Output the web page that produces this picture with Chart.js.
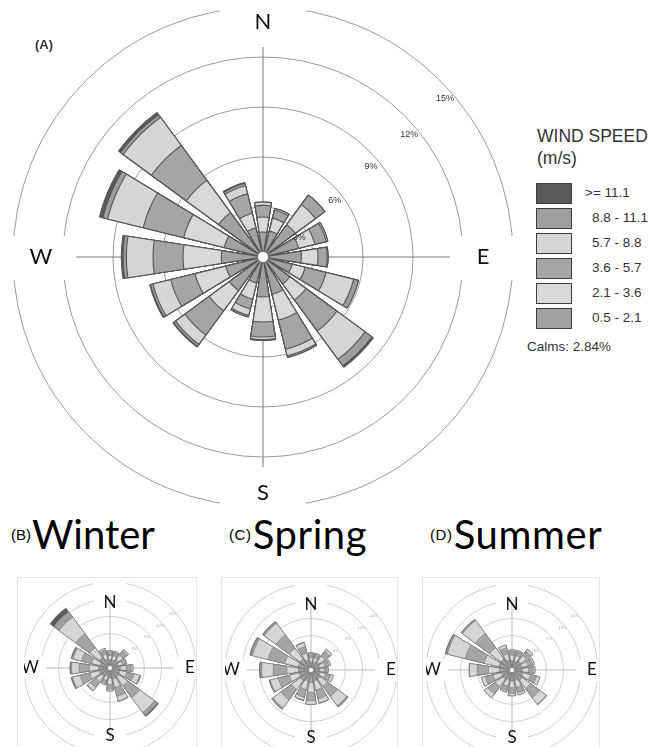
<!DOCTYPE html>
<html><head><meta charset="utf-8">
<script src="https://cdn.jsdelivr.net/npm/chart.js@4.4.1/dist/chart.umd.min.js"></script>
<style>
html,body{margin:0;padding:0;background:#fff}
body{width:659px;height:747px;position:relative;overflow:hidden;font-family:"Liberation Sans",Arial,sans-serif;color:#222}
.abs{position:absolute}
canvas{display:block}
.title{position:absolute;font-family:Lato,"Open Sans",sans-serif;font-size:40px;line-height:40px;color:#000;white-space:nowrap}
.title span{font-family:"Liberation Sans",Arial,sans-serif;font-size:15px;margin-right:1px;position:relative;top:-9px}
.frame{position:absolute;border:1px solid #e6e6e6;box-sizing:border-box}
.lg-t{position:absolute;left:537px;font-size:17.5px;color:#333;white-space:nowrap}
.lg-box{position:absolute;left:536px;width:36px;height:21px;box-sizing:border-box;border:1.5px solid #3c3c3c}
.lg-l{position:absolute;font-size:13.5px;color:#333;white-space:pre}
</style></head><body>

<div class="abs" style="left:13px;top:7px;width:500px;height:500px"><canvas id="cA" width="500" height="500"></canvas></div>
<div class="abs" style="left:35px;top:37px;font-weight:bold;font-size:13px;color:#333">(A)</div>

<div id="legend"></div>

<div class="title" style="left:11px;top:514px"><span>(B)</span>Winter</div>
<div class="title" style="left:229px;top:514px;letter-spacing:0.6px"><span>(C)</span>Spring</div>
<div class="title" style="left:430px;top:514px;letter-spacing:0.6px"><span>(D)</span>Summer</div>

<div class="frame" style="left:17px;top:577px;width:180px;height:175px"></div>
<div class="frame" style="left:221px;top:577px;width:177px;height:175px"></div>
<div class="frame" style="left:422px;top:577px;width:178px;height:175px"></div>
<div class="abs" style="left:24px;top:582px;width:172px;height:172px"><canvas id="cB" width="172" height="172"></canvas></div>
<div class="abs" style="left:225px;top:584px;width:172px;height:172px"><canvas id="cC" width="172" height="172"></canvas></div>
<div class="abs" style="left:426px;top:584px;width:172px;height:172px"><canvas id="cD" width="172" height="172"></canvas></div>

<script>
// ---------- categories / labels ----------
const directions = ['N','NNE','NE','ENE','E','ESE','SE','SSE','S','SSW','SW','WSW','W','WNW','NW','NNW'];
const speedBins = ['0.5 - 2.1','2.1 - 3.6','3.6 - 5.7','5.7 - 8.8','8.8 - 11.1','>= 11.1'];
const binColors = ['#a2a2a2','#d9d9d9','#a5a5a5','#d6d6d6','#9e9e9e','#5a5a5a'];
const ringTicks = [3, 6, 9, 12, 15];
const tickLabels = ['3%', '6%', '9%', '12%', '15%'];
const calmsText = 'Calms: 2.84%';

// ---------- (A) annual, frequency % per speed bin (N ... NNW) ----------
const annual_05_21  = [1.5,1.6,2.4,2.2,2.3,1.8,2.0,2.3,2.4,1.6,2.5,2.3,2.5,2.4,3.3,1.8];
const annual_21_36  = [0.9,0.8,1.5,1.0,1.0,0.8,1.2,1.6,1.5,1.0,1.5,1.9,2.3,2.5,2.4,0.9];
const annual_36_57  = [0.7,0.5,0.7,0.7,0.55,1.3,2.3,1.8,0.9,0.6,1.8,1.5,1.8,2.5,2.6,1.2];
const annual_57_88  = [0.2,0.1,0.0,0.1,0.05,1.7,2.1,0.4,0.15,0.4,0.7,1.1,1.6,2.2,2.1,0.5];
const annual_88_111 = [0,0,0,0,0,0.3,0.5,0.1,0.05,0.1,0.15,0.15,0.2,0.3,0.2,0.15];
const annual_111    = [0,0,0,0,0,0,0.1,0,0,0,0.05,0.05,0.1,0.2,0.15,0.05];

// ---------- (B) winter ----------
const winter_05_21  = [1.4,1.4,1.8,1.5,1.8,1.8,2.0,2.0,1.8,1.4,1.8,2.0,2.0,1.8,2.2,1.6];
const winter_21_36  = [0.8,0.8,1.0,0.8,1.0,1.2,1.8,1.5,1.1,0.8,1.2,1.6,1.6,1.5,2.2,0.9];
const winter_36_57  = [0.6,0.6,0.9,0.5,0.9,1.3,2.6,1.6,0.8,0.6,1.2,1.8,1.8,1.8,3.0,0.7];
const winter_57_88  = [0.2,0.2,0.3,0.2,0.3,1.0,3.2,0.8,0.3,0.2,0.7,1.3,1.3,1.5,3.6,0.3];
const winter_88_111 = [0,0,0,0,0,0.2,0.7,0.1,0,0,0.1,0.2,0.2,0.3,1.2,0];
const winter_111    = [0,0,0,0,0,0,0.2,0,0,0,0,0.1,0.1,0.1,0.8,0];

// ---------- (C) spring ----------
const spring_05_21  = [1.4,1.4,1.8,1.6,1.5,1.6,2.0,2.0,2.2,2.0,2.3,2.1,2.2,2.3,2.4,1.8];
const spring_21_36  = [0.8,0.8,1.2,0.9,0.8,1.0,1.5,1.6,1.7,1.5,1.9,1.8,2.0,2.4,2.3,1.2];
const spring_36_57  = [0.6,0.6,1.1,0.7,0.5,0.9,2.2,1.6,1.5,1.4,2.3,2.0,2.4,3.0,2.9,1.2];
const spring_57_88  = [0.2,0.2,0.4,0.3,0.2,0.5,2.0,0.7,0.6,0.5,1.7,1.4,2.0,2.8,2.5,0.7];
const spring_88_111 = [0,0,0,0,0,0,0.3,0.1,0,0.1,0.3,0.2,0.3,0.4,0.3,0.1];
const spring_111    = [0,0,0,0,0,0,0,0,0,0,0,0,0.1,0.1,0.1,0];

// ---------- (D) summer ----------
const summer_05_21  = [1.6,1.6,1.9,1.8,1.8,2.0,2.2,1.9,1.9,1.8,2.0,1.9,2.2,2.4,2.4,1.8];
const summer_21_36  = [1.0,1.0,1.2,1.1,1.1,1.3,1.8,1.2,1.2,1.1,1.6,1.5,1.9,2.6,2.4,1.1];
const summer_36_57  = [0.7,0.7,1.0,0.8,0.8,1.1,2.0,1.0,1.0,0.8,1.6,1.4,2.0,3.4,3.1,1.1];
const summer_57_88  = [0.2,0.2,0.4,0.3,0.3,0.6,1.4,0.4,0.4,0.3,0.8,0.7,1.3,3.2,2.8,0.5];
const summer_88_111 = [0,0,0,0,0,0,0.1,0,0,0,0,0,0.1,0.3,0.2,0];
const summer_111    = [0,0,0,0,0,0,0,0,0,0,0,0,0,0.1,0.1,0];

const annualBins = [annual_05_21, annual_21_36, annual_36_57, annual_57_88, annual_88_111, annual_111];
const winterBins = [winter_05_21, winter_21_36, winter_36_57, winter_57_88, winter_88_111, winter_111];
const springBins = [spring_05_21, spring_21_36, spring_36_57, spring_57_88, spring_88_111, spring_111];
const summerBins = [summer_05_21, summer_21_36, summer_36_57, summer_57_88, summer_88_111, summer_111];

// ---------- legend (HTML, built from bins/colours) ----------
(function () {
  const lg = document.getElementById('legend');
  let h = '<div class="lg-t" style="top:126px">WIND SPEED</div><div class="lg-t" style="top:148px">(m/s)</div>';
  const tops = [183, 208, 233, 258, 283, 308];
  for (let i = 0; i < 6; i++) {
    const k = 5 - i;
    h += '<div class="lg-box" style="top:' + tops[i] + 'px;background:' + binColors[k] + '"></div>';
    h += '<div class="lg-l" style="top:' + (tops[i] + 2) + 'px;left:' + (k === 5 ? 585 : 592) + 'px">' +
         speedBins[k].replace('>', '&gt;') + '</div>';
  }
  h += '<div class="lg-l" style="top:339px;left:527px">' + calmsText + '</div>';
  lg.innerHTML = h;
})();

// ---------- rose builder ----------
const PETAL = 17.5, GAP = 22.5 - 17.5;

function decorPlugin(cfg) {
  return {
    id: 'roseDecor',
    beforeDatasetsDraw(chart) {
      const s = chart.scales.r, ctx = chart.ctx;
      const cx = s.xCenter, cy = s.yCenter;
      ctx.save();
      ctx.fillStyle = '#fff';
      cfg.boxes.forEach(b => ctx.fillRect(cx + b[0], cy + b[1], b[2], b[3]));
      ctx.strokeStyle = cfg.axisColor; ctx.lineWidth = cfg.axisWidth;
      const v = s.getDistanceFromCenterForValue(cfg.axisV);
      const hh = s.getDistanceFromCenterForValue(cfg.axisH);
      ctx.beginPath();
      ctx.moveTo(cx, cy - v); ctx.lineTo(cx, cy + v);
      ctx.moveTo(cx - hh, cy); ctx.lineTo(cx + hh, cy);
      ctx.stroke();
      ctx.fillStyle = '#111'; ctx.font = cfg.cardFont;
      ctx.textAlign = 'center'; ctx.textBaseline = 'middle';
      cfg.cardinals.forEach(c => ctx.fillText(c[0], cx + c[1], cy + c[2]));
      ctx.restore();
    },
    afterDatasetsDraw(chart) {
      const s = chart.scales.r, ctx = chart.ctx;
      const cx = s.xCenter, cy = s.yCenter;
      ctx.save();
      ctx.beginPath(); ctx.arc(cx, cy, cfg.calmR, 0, Math.PI * 2);
      ctx.fillStyle = '#fff'; ctx.fill();
      ctx.strokeStyle = '#777'; ctx.lineWidth = cfg.calmW; ctx.stroke();
      ctx.fillStyle = cfg.tickColor; ctx.font = cfg.tickFont;
      ctx.textAlign = 'center'; ctx.textBaseline = 'middle';
      ringTicks.forEach((t, i) => {
        const d = s.getDistanceFromCenterForValue(t) - cfg.tickInset;
        const a = cfg.tickBearing[i] * Math.PI / 180;
        ctx.fillText(tickLabels[i], cx + d * Math.sin(a), cy - d * Math.cos(a));
      });
      ctx.restore();
    }
  };
}

function buildRose(id, bins, cfg) {
  const labels = [];
  directions.forEach(d => { labels.push(d); labels.push(''); });
  let run = directions.map(() => 0);
  const datasets = bins.map((b, k) => {
    run = run.map((v, i) => v + b[i]);
    const data = [];
    run.forEach(v => { data.push(v); data.push(0); });
    return {
      label: speedBins[k],
      data,
      backgroundColor: c => (c.dataIndex % 2 ? 'rgba(0,0,0,0)' : binColors[k]),
      borderColor: c => (c.dataIndex % 2 ? 'rgba(0,0,0,0)' : cfg.border),
      borderWidth: c => (c.dataIndex % 2 ? 0 : cfg.bw),
      angle: c => (c.dataIndex % 2 ? GAP : PETAL)
    };
  });
  return new Chart(document.getElementById(id), {
    type: 'polarArea',
    data: { labels, datasets },
    options: {
      responsive: false, animation: false, devicePixelRatio: 1,
      layout: { padding: 0 },
      plugins: { legend: { display: false }, tooltip: { enabled: false } },
      scales: {
        r: {
          min: 0, max: 15, startAngle: -PETAL / 2,
          ticks: { display: false, stepSize: 3 },
          grid: { color: cfg.gridColor, lineWidth: cfg.gridWidth, circular: true },
          angleLines: { display: false },
          pointLabels: { display: false }
        }
      }
    },
    plugins: [decorPlugin(cfg)]
  });
}

buildRose('cA', annualBins, {
  border: '#555', bw: 1.1, gridColor: '#9a9a9a', gridWidth: 1,
  axisColor: '#777', axisWidth: 1, axisV: 12.6, axisH: 11.2,
  boxes: [[-43, -256, 86, 36], [-43, 220, 86, 36], [-256, -21, 66, 44], [190, -21, 66, 44]],
  cardinals: [['N', 0, -235], ['S', 0, 236], ['W', -222, 0], ['E', 220, 0]],
  cardFont: '22px Lato, "Open Sans", sans-serif',
  calmR: 5.5, calmW: 1,
  tickColor: '#333', tickFont: '9px "Liberation Sans", Arial, sans-serif',
  tickInset: 9, tickBearing: [62, 52, 50, 50, 49]
});

const smallCfg = {
  border: '#6a6a6a', bw: 0.5, gridColor: '#d0d0d0', gridWidth: 1,
  axisColor: '#bbb', axisWidth: 1, axisV: 12.6, axisH: 11.2,
  boxes: [[-16, -92, 32, 36], [-16, 56, 32, 36], [-92, -11, 30, 22], [62, -11, 30, 22]],
  cardinals: [['N', 0, -65], ['S', 0, 68], ['W', -80, 0], ['E', 80, 0]],
  cardFont: '17px Lato, "Open Sans", sans-serif',
  calmR: 2.5, calmW: 0.6,
  tickColor: '#aaa', tickFont: '4px "Liberation Sans", Arial, sans-serif',
  tickInset: 3, tickBearing: [62, 52, 50, 50, 49]
};
buildRose('cB', winterBins, smallCfg);
buildRose('cC', springBins, smallCfg);
buildRose('cD', summerBins, smallCfg);
</script>
</body></html>
